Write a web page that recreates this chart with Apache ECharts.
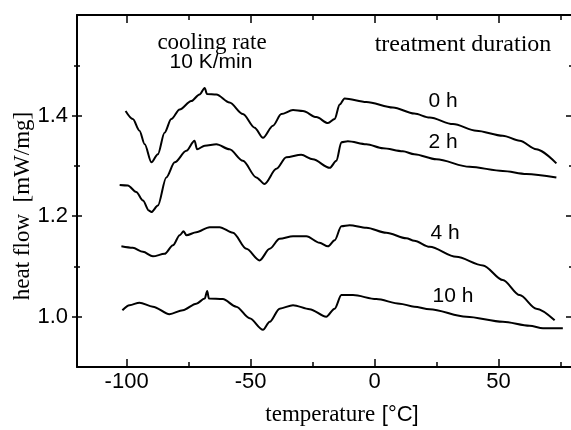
<!DOCTYPE html>
<html>
<head>
<meta charset="utf-8">
<script src="https://cdn.jsdelivr.net/npm/echarts@6/dist/echarts.min.js"></script>
<style>
html, body { margin: 0; padding: 0; background: #fff; }
#chart { width: 571px; height: 430px; }
</style>
</head>
<body>
<div id="chart"></div>
<script type="text/javascript">
// DSC traces, [temperature °C, heat flow mW/mg]
var curve0h = [[-100.4,1.409],[-97.5,1.393],[-94.8,1.370],[-92.7,1.343],[-90,1.307],[-87.4,1.323],[-84.7,1.366],[-82,1.393],[-78.6,1.412],[-73.9,1.429],[-70.6,1.442],[-68.5,1.455],[-67.6,1.443],[-63.8,1.442],[-58.5,1.426],[-53.1,1.403],[-48.4,1.376],[-45,1.356],[-41,1.380],[-37.6,1.403],[-32.9,1.411],[-28.9,1.409],[-23.5,1.397],[-18.8,1.385],[-16.1,1.393],[-14.1,1.422],[-12.1,1.434],[-3.3,1.427],[7.4,1.416],[16,1.404],[22.2,1.396],[31.6,1.383],[41,1.370],[51.7,1.360],[58.5,1.350],[65.2,1.333],[73.3,1.305]]
var curve2h = [[-102.8,1.262],[-99.5,1.261],[-96.1,1.248],[-93.4,1.231],[-91,1.211],[-90,1.208],[-87.4,1.221],[-84,1.277],[-80.6,1.307],[-75.9,1.330],[-72.6,1.350],[-71.6,1.333],[-68.5,1.340],[-63.8,1.343],[-58.5,1.333],[-53.1,1.310],[-47.7,1.277],[-44.4,1.264],[-39.6,1.294],[-35.6,1.317],[-29.6,1.322],[-24.9,1.313],[-18.1,1.296],[-15.4,1.310],[-13.4,1.347],[-10.8,1.349],[-3.3,1.343],[3.4,1.335],[11.4,1.329],[16,1.323],[24.9,1.313],[38.3,1.298],[51.7,1.290],[61.2,1.284],[73.3,1.277]]
var curve4h = [[-102.1,1.140],[-97.5,1.137],[-93.4,1.129],[-89.4,1.120],[-84.7,1.125],[-81.3,1.142],[-78.6,1.162],[-77,1.170],[-75.9,1.162],[-71.9,1.168],[-66.5,1.178],[-62.5,1.178],[-57.1,1.167],[-51.7,1.135],[-46.4,1.112],[-42.3,1.135],[-38.3,1.155],[-32.9,1.160],[-27.5,1.160],[-22.2,1.147],[-18.8,1.140],[-16.1,1.152],[-13.4,1.180],[-10.1,1.182],[-3.3,1.177],[4.7,1.167],[12.8,1.156],[16,1.151],[22.2,1.139],[32.9,1.119],[43.7,1.102],[51.7,1.073],[58.5,1.043],[65.2,1.016],[72.6,0.993]]
var curve10h = [[-101.7,1.013],[-98.8,1.023],[-94.8,1.028],[-89.4,1.020],[-82.7,1.005],[-77.3,1.013],[-71.9,1.026],[-68.5,1.036],[-67.5,1.051],[-66.8,1.036],[-61.2,1.035],[-55.8,1.020],[-50.4,0.997],[-45,0.974],[-42.3,0.990],[-38.3,1.016],[-32.9,1.023],[-26.2,1.015],[-19.5,1.000],[-16.1,1.016],[-13.4,1.043],[-8.7,1.043],[0.7,1.035],[10.1,1.026],[16,1.020],[22.2,1.015],[37,1.000],[51.7,0.990],[62.5,0.982],[67.9,0.977],[75.9,0.977]]

var seriesNames = ['0 h', '2 h', '4 h', '10 h']
var xMajorTicks = [-100, -50, 0, 50]
var xMinorTicks = [-75, -25, 25, 75]
var yMajorTicks = [1.0, 1.2, 1.4]
var yMinorTicks = [1.1, 1.3, 1.5]

var serif = '"Liberation Serif", "DejaVu Serif", serif'
var sans = '"Liberation Sans", Arial, sans-serif'

function xAxisOf(position, ticks, len, showLine) {
  return {
    type: 'value', position: position, min: -120, max: 80,
    axisLine: { show: showLine, onZero: false, lineStyle: { color: '#000', width: 2 } },
    axisTick: { show: true, inside: true, length: len, customValues: ticks, lineStyle: { color: '#000', width: 1.5 } },
    axisLabel: { show: false },
    splitLine: { show: false }
  }
}

function yAxisOf(position, ticks, len, inside, showLine) {
  return {
    type: 'value', position: position, min: 0.9, max: 1.6,
    axisLine: { show: showLine, onZero: false, lineStyle: { color: '#000', width: 2 } },
    axisTick: { show: true, inside: inside, length: len, customValues: ticks, lineStyle: { color: '#000', width: 1.5 } },
    axisLabel: { show: false },
    splitLine: { show: false }
  }
}

var xMain = xAxisOf('bottom', xMajorTicks, 8, true)
xMain.axisLabel = {
  show: true, customValues: xMajorTicks, color: '#000', fontSize: 22, fontFamily: sans, margin: 4
}
xMain.name = '{a|temperature}  {b|[°C]}'
xMain.nameLocation = 'middle'
xMain.nameGap = 36
xMain.nameMoveOverlap = false
xMain.nameTextStyle = {
  padding: [0, 0, 0, 34],
  rich: {
    a: { fontFamily: serif, fontSize: 23, color: '#000' },
    b: { fontFamily: sans, fontSize: 22, color: '#000' }
  }
}

var yMain = yAxisOf('left', yMajorTicks, 5, false, true)
yMain.axisLabel = {
  show: true, customValues: yMajorTicks, color: '#000', fontSize: 22, fontFamily: sans, margin: 9,
  formatter: function(v) { return v.toFixed(1) }
}
yMain.name = 'heat flow  [mW/mg]'
yMain.nameLocation = 'middle'
yMain.nameGap = 43
yMain.nameMoveOverlap = false
yMain.nameTextStyle = { fontFamily: serif, fontSize: 23, color: '#000', padding: [0, 30, 0, 0] }

var chart = echarts.init(document.getElementById('chart'))
chart.setOption({
  animation: false,
  backgroundColor: '#fff',
  grid: { left: 77, right: -2, top: 15, bottom: 63, outerBoundsMode: 'none', containLabel: false },
  xAxis: [
    xMain,
    xAxisOf('bottom', xMinorTicks, 5, false),
    xAxisOf('top', xMajorTicks, 8, true),
    xAxisOf('top', xMinorTicks, 5, false)
  ],
  yAxis: [
    yMain,
    yAxisOf('left', yMajorTicks, 5, true, false),
    yAxisOf('left', yMinorTicks, 3, false, false),
    yAxisOf('left', yMinorTicks, 3, true, false),
    yAxisOf('right', yMajorTicks, 7, true, true),
    yAxisOf('right', yMinorTicks, 4, true, false)
  ],
  series: [curve0h, curve2h, curve4h, curve10h].map(function(d, i) {
    return {
      name: seriesNames[i],
      type: 'line',
      data: d,
      showSymbol: false,
      smooth: 0.3,
      smoothMonotone: 'x',
      lineStyle: { color: '#000', width: 2 }
    }
  }),
  graphic: [
    { type: 'text', x: 212, y: 43, style: { text: 'cooling rate', font: '23px ' + serif, fill: '#000', align: 'center', verticalAlign: 'middle' } },
    { type: 'text', x: 211, y: 62, style: { text: '10 K/min', font: '21px ' + sans, fill: '#000', align: 'center', verticalAlign: 'middle' } },
    { type: 'text', x: 463, y: 45, style: { text: 'treatment duration', font: '24px ' + serif, fill: '#000', align: 'center', verticalAlign: 'middle' } },
    { type: 'text', x: 443, y: 101, style: { text: seriesNames[0], font: '21px ' + sans, fill: '#000', align: 'center', verticalAlign: 'middle' } },
    { type: 'text', x: 443, y: 142, style: { text: seriesNames[1], font: '21px ' + sans, fill: '#000', align: 'center', verticalAlign: 'middle' } },
    { type: 'text', x: 445, y: 233, style: { text: seriesNames[2], font: '21px ' + sans, fill: '#000', align: 'center', verticalAlign: 'middle' } },
    { type: 'text', x: 453, y: 296, style: { text: seriesNames[3], font: '21px ' + sans, fill: '#000', align: 'center', verticalAlign: 'middle' } }
  ]
})
</script>
</body>
</html>
